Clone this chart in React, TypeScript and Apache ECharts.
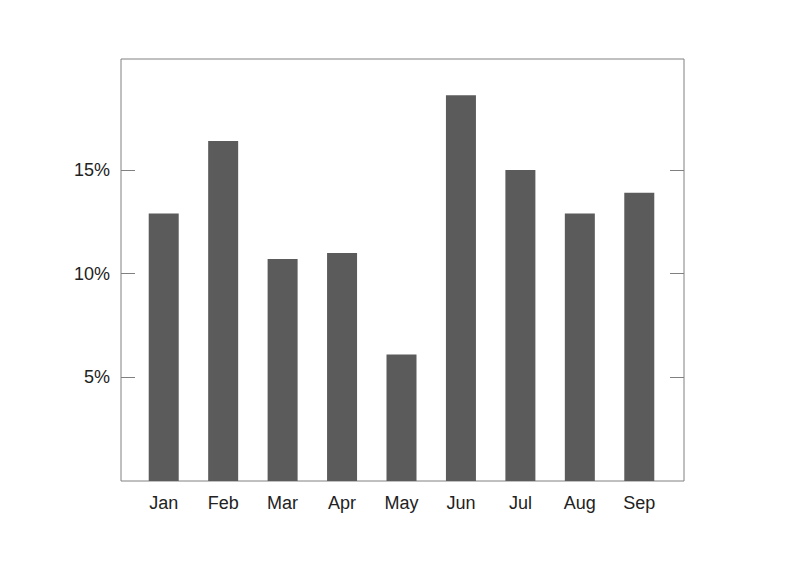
import React, { useEffect, useRef } from "react";
import * as echarts from "echarts";

const categories = ["Jan", "Feb", "Mar", "Apr", "May", "Jun", "Jul", "Aug", "Sep"];
const values = [12.9, 16.4, 10.7, 11.0, 6.1, 18.6, 15.0, 12.9, 13.9];
const yTicks = [5, 10, 15];
const yMin = 0;
const yMax = 20.35;

export default function App() {
  const ref = useRef<HTMLDivElement>(null);
  useEffect(() => {
    if (!ref.current) return;
    const chart = echarts.init(ref.current, null, { renderer: "svg" });
    const font = "Liberation Sans, Arial, Helvetica, sans-serif";
    const tick = { show: true, inside: true, length: 14, customValues: yTicks, lineStyle: { color: "#808080" } };
    chart.setOption({
      animation: false,
      backgroundColor: "#ffffff",
      textStyle: { fontFamily: font },
      grid: [
        { left: 134, top: 59, width: 535, height: 422 },
        { left: 121, top: 59, width: 563, height: 422, show: true, borderColor: "#808080", borderWidth: 1, backgroundColor: "transparent" },
      ],
      xAxis: [
        {
          type: "category",
          gridIndex: 0,
          data: categories,
          axisLine: { show: false },
          axisTick: { show: false },
          axisLabel: { color: "#222", fontSize: 18, margin: 13, fontFamily: font },
        },
        { type: "value", gridIndex: 1, show: false, min: 0, max: 1 },
      ],
      yAxis: [
        { type: "value", gridIndex: 0, show: false, min: yMin, max: yMax },
        {
          type: "value",
          gridIndex: 1,
          position: "left",
          min: yMin,
          max: yMax,
          axisLine: { show: false },
          splitLine: { show: false },
          axisTick: tick,
          axisLabel: {
            color: "#222",
            fontSize: 18,
            margin: 11,
            fontFamily: font,
            customValues: yTicks,
            formatter: (v: number) => v + "%",
          },
        },
        {
          type: "value",
          gridIndex: 1,
          position: "right",
          min: yMin,
          max: yMax,
          axisLine: { show: false },
          splitLine: { show: false },
          axisTick: tick,
          axisLabel: { show: false },
        },
      ],
      series: [
        {
          type: "bar",
          xAxisIndex: 0,
          yAxisIndex: 0,
          data: values,
          barWidth: 30,
          itemStyle: { color: "#5b5b5b" },
        },
      ],
    });
    return () => chart.dispose();
  }, []);
  return (
    <div
      ref={ref}
      style={{ position: "fixed", left: 0, top: 0, width: 792, height: 568 }}
    />
  );
}
